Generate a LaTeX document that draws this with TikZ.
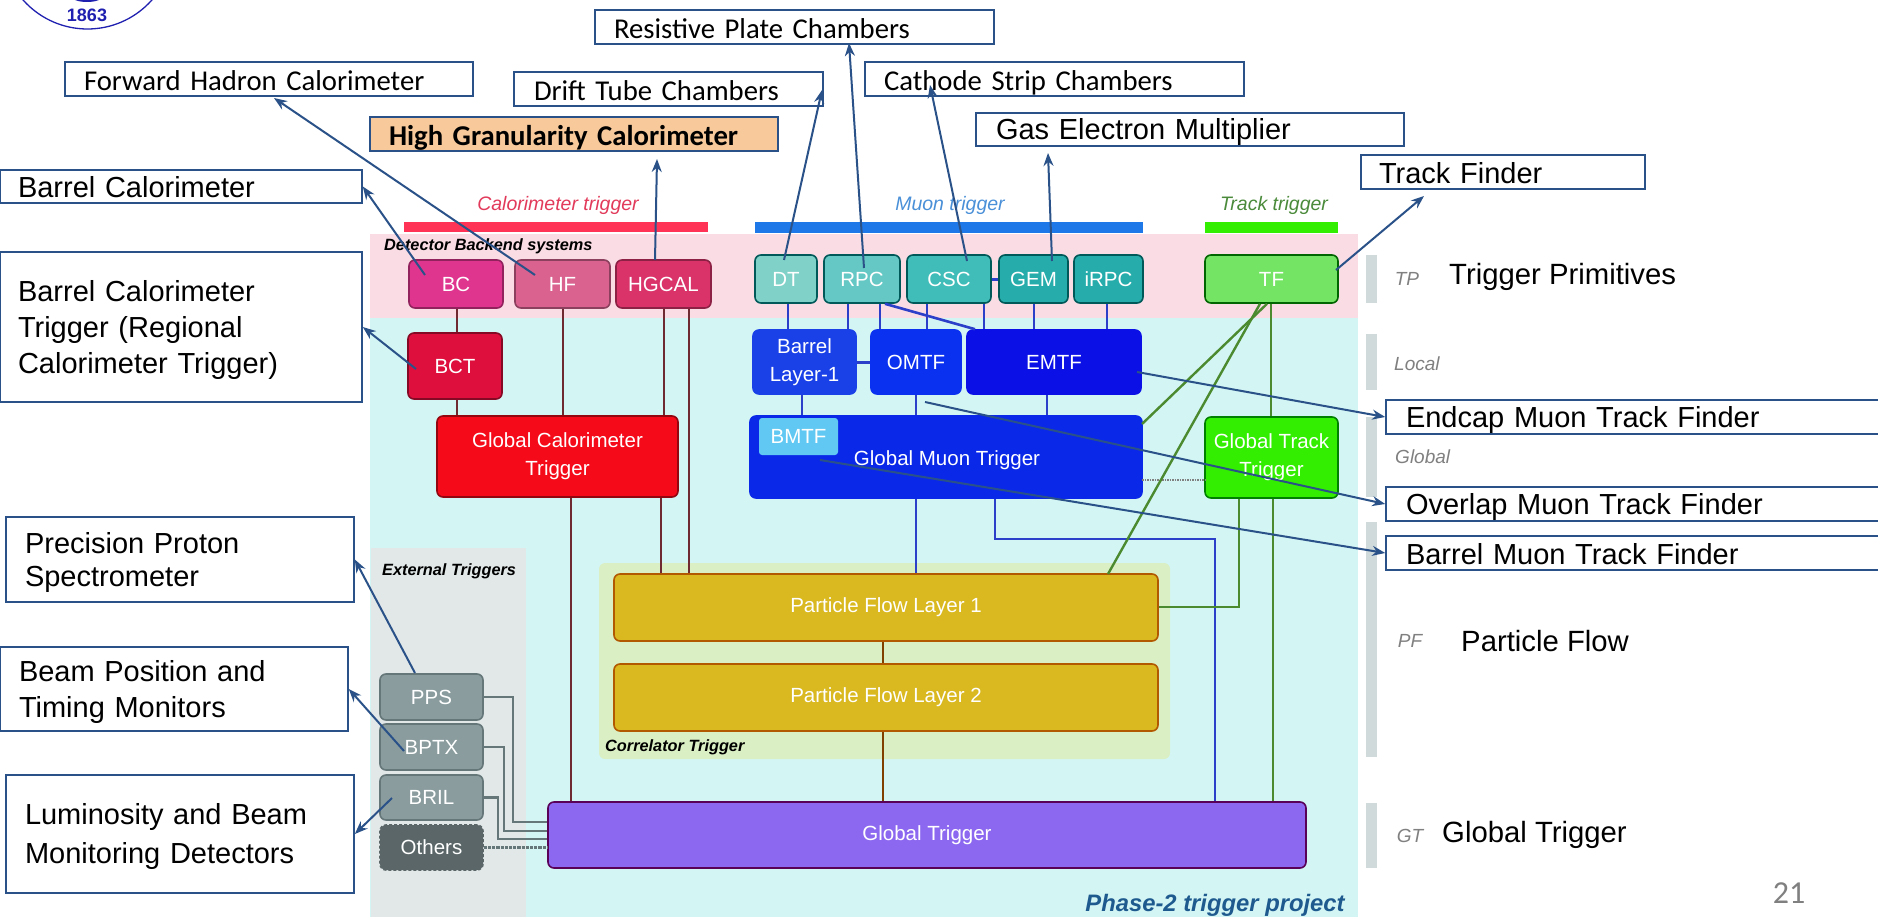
\documentclass[tikz,border=0pt]{standalone}
\usepackage{fontspec}
\setmainfont{Liberation Sans}
\newfontfamily\calib{Carlito}
\usetikzlibrary{arrows.meta}
\definecolor{lblblue}{HTML}{2A5288}
\definecolor{pinkbg}{HTML}{F9DCE4}
\definecolor{cyanbg}{HTML}{D3F6F5}
\definecolor{greybg}{HTML}{E2E8E8}
\definecolor{corrbg}{HTML}{DAEFC4}
\definecolor{sidebar}{HTML}{D0DADA}
\definecolor{calline}{HTML}{6E2A30}
\definecolor{muline}{HTML}{2B3FC8}
\definecolor{trline}{HTML}{4C8A30}
\definecolor{extline}{HTML}{66777A}
\definecolor{logoblue}{HTML}{2020B0}
\tikzset{
  lbl/.style={draw=lblblue,line width=1.6pt,fill=white,inner sep=0pt,text=black,execute at begin node={\rule[-4pt]{0pt}{31pt}}},
  callbl/.style={lbl,font=\calib\fontsize{28.7}{36}\selectfont},
  ariallbl/.style={lbl,font=\fontsize{29}{36}\selectfont},
  note/.style={-{Stealth[length=13pt,width=10pt]},draw=lblblue,line width=2pt},
  blk/.style={rounded corners=6pt,line width=1.6pt,text=white,inner sep=0pt,align=center,font=\fontsize{20.5}{28}\selectfont},
  free/.style={inner sep=0pt,text=black,font=\fontsize{29.3}{34}\selectfont},
  head/.style={inner sep=0pt,font=\itshape\fontsize{19.5}{23}\selectfont},
  level/.style={inner sep=0pt,text=gray,font=\itshape\fontsize{19}{22}\selectfont},
  strong/.style={inner sep=0pt,font=\bfseries\itshape\fontsize{16.3}{19}\selectfont},
  cal/.style={draw=calline,line width=2pt},
  mu/.style={draw=muline,line width=2pt},
  tr/.style={draw=trline,line width=2.4pt},
  ext/.style={draw=extline,line width=2.4pt}
}
\newcommand{\bx}[7][]{%
  \pgfmathsetmacro{\bw}{#5-#3}\pgfmathsetmacro{\bh}{#6-#4}%
  \node[#2,minimum width=\bw pt,minimum height=\bh pt,#1] (#7) at ({(#3+#5)/2},{(#4+#6)/2})}
% left-aligned label box: [opts]{style}{x1}{y1}{x2}{y2}{pad}{name}
\newcommand{\lb}[8][]{%
  \pgfmathsetmacro{\bw}{#5-#3}\pgfmathsetmacro{\bh}{#6-#4}\pgfmathsetmacro{\tw}{#5-#3-2*#7}%
  \node[#2,minimum width=\bw pt,minimum height=\bh pt,text width=\tw pt,align=left,#1] (#8) at ({(#3+#5)/2},{(#4+#6)/2})}
\begin{document}
\begin{tikzpicture}[x=1pt,y=-1pt]
\clip (0,0) rectangle (1878,917);
\fill[white] (0,0) rectangle (1878,917);
% backgrounds
\fill[cyanbg] (370,318) rectangle (1358,917);
\fill[pinkbg] (370,234) rectangle (1358,318);
\fill[greybg] (371,548) rectangle (526,917);
\fill[corrbg,rounded corners=6pt] (599,563) rectangle (1170,759);
% group bars
\definecolor{calbar}{HTML}{FF3355}\definecolor{mubar}{HTML}{1F78E8}\definecolor{trbar}{HTML}{33EE00}
\fill[calbar] (404,222) rectangle (708,232);
\fill[mubar] (755,222) rectangle (1143,233);
\fill[trbar] (1205,222) rectangle (1338,233);
\foreach \a/\b in {255/303,334/390,417/497,522/757,803/868}
  \fill[sidebar] (1366,\a) rectangle (1377,\b);
% logo
\draw[logoblue,line width=1.3pt] (87.5,-57) circle[radius=86];
\fill[logoblue] (87,-4) ellipse[x radius=16,y radius=6];
\node[inner sep=0pt,text=logoblue,font=\bfseries\fontsize{18}{20}\selectfont] (logoyear) at (87,15) {1863};
% headings
\definecolor{hcalc}{HTML}{E23A5A}\definecolor{hmuc}{HTML}{4A90D8}\definecolor{htrc}{HTML}{4A8A3A}
\node[head,text=hcalc] (hcal) at (558,205) {Calorimeter trigger};
\node[head,text=hmuc] (hmu) at (950,205) {Muon trigger};
\node[head,text=htrc] (htr) at (1274,205) {Track trigger};
\node[strong,anchor=west] (hback) at (384,246) {Detector Backend systems};
\node[strong,anchor=west] (hext) at (382,571) {External Triggers};
\node[strong,anchor=west] (hcorr) at (605,747) {Correlator Trigger};
\definecolor{phasec}{HTML}{1F5A8F}
\node[inner sep=0pt,text=phasec,font=\bfseries\itshape\fontsize{23.8}{26}\selectfont] (hphase) at (1215,905) {Phase-2 trigger project};
% level labels
\node[level] (ltp) at (1407,279) {TP};
\node[level,anchor=west] (lloc) at (1394,364) {Local};
\node[level,anchor=west] (lglo) at (1395,457) {Global};
\node[level] (lpf) at (1410,641) {PF};
\node[level] (lgt) at (1410,836) {GT};
% blocks
\definecolor{cbc}{HTML}{E0358F}\definecolor{chf}{HTML}{D9628F}\definecolor{chg}{HTML}{D9336A}
\definecolor{cbct}{HTML}{DE0F3C}\definecolor{cgct}{HTML}{F50A1A}
\definecolor{cdt}{HTML}{80D2C8}\definecolor{crpc}{HTML}{66C8C4}\definecolor{ccsc}{HTML}{40BDB8}\definecolor{cgem}{HTML}{26ADAB}
\definecolor{ctf}{HTML}{74E464}\definecolor{cgt}{HTML}{33EE00}
\definecolor{cbl}{HTML}{1A40E8}\definecolor{com}{HTML}{0A30F0}\definecolor{cem}{HTML}{0A10E6}\definecolor{cgm}{HTML}{0A28E8}\definecolor{cbm}{HTML}{60C8F2}
\definecolor{cpf}{HTML}{D9B820}\definecolor{cgtr}{HTML}{8C68F0}\definecolor{cext}{HTML}{8A9C9E}\definecolor{coth}{HTML}{5A6668}
\bx[fill=cbc,draw=cbc!65!black]{blk}{409}{260}{503}{308}{bc} {BC};
\bx[fill=chf,draw=chf!65!black]{blk}{515}{260}{610}{308}{hf} {HF};
\bx[fill=chg,draw=chg!65!black]{blk}{616}{260}{711}{308}{hg} {HGCAL};
\bx[fill=cbct,draw=cbct!60!black]{blk}{408}{333}{502}{399}{bct} {BCT};
\bx[fill=cgct,draw=cgct!60!black]{blk}{437}{416}{678}{497}{gct} {Global Calorimeter\\Trigger};
\bx[fill=cdt,draw=teal!70!black]{blk}{755}{255}{817}{303}{dt} {DT};
\bx[fill=crpc,draw=teal!70!black]{blk}{824}{255}{900}{303}{rpc} {RPC};
\bx[fill=ccsc,draw=teal!70!black]{blk}{907}{255}{991}{303}{csc} {CSC};
\bx[fill=cgem,draw=teal!70!black]{blk}{999}{255}{1068}{303}{gem} {GEM};
\bx[fill=cgem,draw=teal!70!black]{blk}{1074}{255}{1143}{303}{irpc} {iRPC};
\bx[fill=ctf,draw=green!40!black]{blk}{1205}{255}{1338}{303}{tf} {TF};
\bx[fill=cbl,draw=cbl]{blk}{753}{330}{856}{394}{bl} {Barrel\\Layer-1};
\bx[fill=com,draw=com]{blk}{871}{330}{961}{394}{om} {OMTF};
\bx[fill=cem,draw=cem]{blk}{967}{330}{1141}{394}{em} {EMTF};
\bx[fill=cgm,draw=cgm]{blk}{750}{416}{1142}{498}{gm} {};
\node[inner sep=0pt,text=white,font=\fontsize{20.5}{28}\selectfont] (gmt) at (947,460) {Global Muon Trigger};
\bx[fill=cbm,draw=none,rounded corners=3pt]{blk}{759}{418}{838}{455}{bm} {BMTF};
\bx[fill=cgt,draw=green!50!black]{blk}{1205}{417}{1338}{498}{gt} {Global Track\\Trigger};
\bx[fill=cpf,draw=orange!70!black]{blk}{614}{574}{1158}{641}{pa} {Particle Flow Layer 1};
\bx[fill=cpf,draw=orange!70!black]{blk}{614}{664}{1158}{731}{pb} {Particle Flow Layer 2};
\bx[fill=cgtr,draw=violet!70!black]{blk}{548}{802}{1306}{868}{gtr} {Global Trigger};
\bx[fill=cext,draw=extline]{blk}{380}{674}{483}{720}{pps} {PPS};
\bx[fill=cext,draw=extline]{blk}{380}{724}{483}{770}{bptx} {BPTX};
\bx[fill=cext,draw=extline]{blk}{380}{775}{483}{820}{bril} {BRIL};
\bx[fill=coth,draw=coth,densely dashed]{blk}{380}{825}{483}{870}{oth} {Others};
% calorimeter lines
\draw[cal] (457,0 |- bc.south) -- (457,0 |- bct.north);
\draw[cal] (457,0 |- bct.south) -- (457,0 |- gct.north);
\draw[cal] (563,0 |- hf.south) -- (563,0 |- gct.north);
\draw[cal] (664,0 |- hg.south) -- (664,0 |- gct.north);
\draw[cal] (689,0 |- hg.south) -- (689,0 |- pa.north);
\draw[cal] (661,0 |- gct.south) -- (661,0 |- pa.north);
\draw[cal] (571,0 |- gct.south) -- (571,0 |- gtr.north);
\draw[draw=orange!50!black,line width=2pt] (883,0 |- pa.south) -- (883,0 |- pb.north);
\draw[draw=orange!50!black,line width=2pt] (883,0 |- pb.south) -- (883,0 |- gtr.north);
% muon lines
\draw[mu] (788,0 |- dt.south) -- (788,0 |- bl.north);
\draw[mu] (848,0 |- rpc.south) -- (848,0 |- bl.north);
\draw[mu] (880,0 |- rpc.south) -- (880,0 |- om.north);
\draw[mu,line width=2.6pt] (885,0 |- rpc.south) -- (975,0 |- em.north);
\draw[mu] (927,0 |- csc.south) -- (927,0 |- om.north);
\draw[mu] (984,0 |- csc.south) -- (984,0 |- em.north);
\draw[mu,line width=3pt] (csc.east) -- (gem.west);
\draw[mu] (1034,0 |- gem.south) -- (1034,0 |- em.north);
\draw[mu] (1107,0 |- irpc.south) -- (1107,0 |- em.north);
\draw[mu,line width=3pt] (bl.east) -- (om.west);
\draw[mu] (802,0 |- bl.south) -- (802,0 |- gm.north);
\draw[mu] (916,0 |- om.south) -- (916,0 |- gm.north);
\draw[mu] (1047,0 |- em.south) -- (1047,0 |- gm.north);
\draw[mu] (916,0 |- gm.south) -- (916,0 |- pa.north);
\draw[mu] (995,0 |- gm.south) -- (995,539) -- (1215,539) -- (1215,0 |- gtr.north);
\draw[draw=black!50,line width=1.5pt,densely dotted] (1142,480) -- (1205,480);
% track lines
\coordinate (tfgm) at (1142,424);
\coordinate (tfpa) at (1108,574);
\draw[tr] (1271,0 |- tf.south) -- (1271,0 |- gt.north);
\draw[tr] (1267,0 |- tf.south) -- (tfgm);
\draw[tr] (1260,0 |- tf.south) -- (tfpa);
\draw[tr] (1239,0 |- gt.south) -- (1239,607) -- (pa.east |- 1239,607);
\draw[tr] (1273,0 |- gt.south) -- (1273,0 |- gtr.north);
% external lines
\draw[ext] (pps.east) -- (513,0 |- pps.east) -- (513,822) -- (gtr.west |- 513,822);
\draw[ext] (bptx.east) -- (504,0 |- bptx.east) -- (504,831) -- (gtr.west |- 504,831);
\draw[ext] (bril.east) -- (498,0 |- bril.east) -- (498,839) -- (gtr.west |- 498,839);
\draw[draw=extline,line width=3.2pt,densely dotted] (oth.east) -- (gtr.west |- oth.east);
% annotation boxes
\lb{callbl}{595}{10}{994}{44}{19}{lrpc} {Resistive Plate Chambers};
\lb{callbl}{65}{62}{473}{96}{19}{lhf} {Forward Hadron Calorimeter};
\lb{callbl}{514}{72}{823}{106}{20}{ldt} {Drift Tube Chambers};
\definecolor{hgfill}{HTML}{F7C99B}
\lb[fill=hgfill,font=\calib\bfseries\fontsize{28.7}{36}\selectfont]{callbl}{370}{117}{778}{151}{19}{lhg} {High Granularity Calorimeter};
\lb{callbl}{865}{62}{1244}{96}{19}{lcsc} {Cathode Strip Chambers};
\lb{ariallbl}{976}{113}{1404}{146}{20}{lgem} {Gas Electron Multiplier};
\lb{ariallbl}{1361}{155}{1645}{189}{18}{ltf} {Track Finder};
\lb{ariallbl}{0}{170}{362}{203}{18}{lbc} {Barrel Calorimeter};
\lb{ariallbl}{0}{252}{362}{402}{18}{lbct} {Barrel Calorimeter\\Trigger (Regional\\Calorimeter Trigger)};
\lb{ariallbl}{1386}{400}{2000}{434}{20}{lem} {Endcap Muon Track Finder};
\lb{ariallbl}{1386}{487}{2000}{521}{20}{lom} {Overlap Muon Track Finder};
\lb{ariallbl}{1386}{536}{2000}{570}{20}{lbm} {Barrel Muon Track Finder};
\lb[font=\fontsize{29}{33}\selectfont]{ariallbl}{6}{517}{354}{602}{19}{lpps} {Precision Proton\\Spectrometer};
\lb{ariallbl}{0}{647}{348}{731}{19}{lbptx} {Beam Position and\\Timing Monitors};
\lb[font=\fontsize{29}{39}\selectfont]{ariallbl}{6}{775}{354}{893}{19}{lbril} {Luminosity and Beam\\Monitoring Detectors};
% free texts
\node[free,anchor=west] (ttp) at (1449,277) {Trigger Primitives};
\node[free,anchor=west] (tpf) at (1461,641) {Particle Flow};
\node[free,anchor=west] (tgt) at (1442,835) {Global Trigger};
\node[inner sep=0pt,text=gray,font=\calib\fontsize{32}{36}\selectfont] (page) at (1789,893) {21};
% annotation arrows
\coordinate (fbc) at (425,275);
\coordinate (fhf) at (535,275);
\coordinate (fhg) at (655,260);
\coordinate (fbct) at (416,369);
\coordinate (fdt) at (784,260);
\coordinate (frpc) at (864,268);
\coordinate (fcsc) at (967,261);
\coordinate (fgem) at (1052,261);
\coordinate (ftf) at (1336,270);
\coordinate (fem) at (1137,372);
\coordinate (fom) at (925,402);
\coordinate (fbm) at (820,460);
\coordinate (fpps) at (415,673);
\coordinate (fbptx) at (404,751);
\coordinate (fbril) at (392,798);
\draw[note] (fbc) -- (lbc.east);
\draw[note] (fhf) -- (274,98);
\draw[note] (fhg) -- (657,159);
\draw[note] (fbct) -- (lbct.east);
\draw[note] (fdt) -- (822,90);
\draw[note] (frpc) -- (849,43);
\draw[note] (fcsc) -- (930,85);
\draw[note] (fgem) -- (1048,153);
\draw[note] (ftf) -- (1424,196);
\draw[note] (fem) -- (lem.west);
\draw[note] (fom) -- (lom.west);
\draw[note] (fbm) -- (lbm.west);
\draw[note] (fpps) -- (lpps.east);
\draw[note] (fbptx) -- (lbptx.east);
\draw[note] (fbril) -- (lbril.east);
\end{tikzpicture}
\end{document}
